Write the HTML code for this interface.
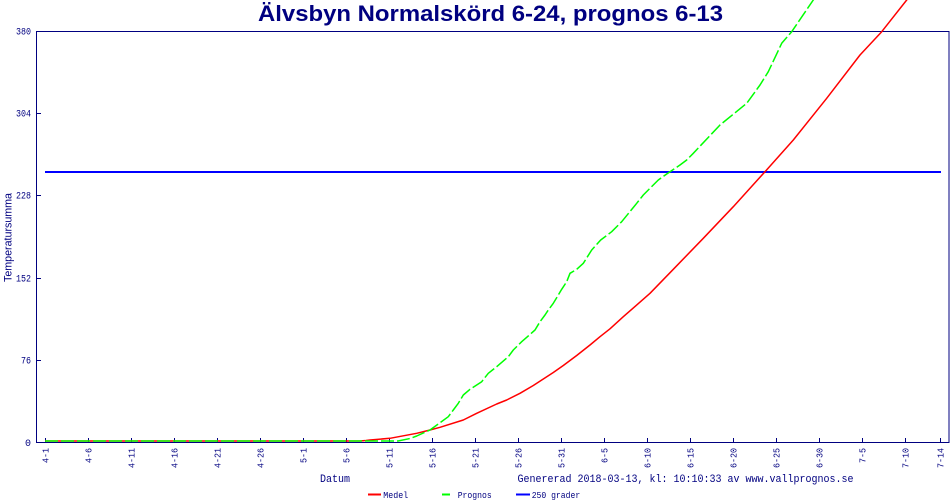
<!DOCTYPE html>
<html><head><meta charset="utf-8"><style>
html,body{margin:0;padding:0;background:#fff;}
svg{display:block;}
.m{font-family:"Liberation Mono",monospace;fill:#000080;}
</style></head><body>
<svg width="950" height="500" viewBox="0 0 950 500" xmlns="http://www.w3.org/2000/svg">
<rect x="0" y="0" width="950" height="500" fill="#fff"/>
<!-- title -->
<text x="258" y="21" font-family="'Liberation Sans',sans-serif" font-weight="bold" font-size="22" fill="#000080" textLength="465" lengthAdjust="spacingAndGlyphs">Älvsbyn Normalskörd 6-24, prognos 6-13</text>
<!-- frame -->
<rect x="36.5" y="31.5" width="912.5" height="411" fill="none" stroke="#000080" stroke-width="1"/>
<!-- y ticks -->
<g stroke="#000080" stroke-width="1">
<line x1="36" y1="442.5" x2="41" y2="442.5"/>
<line x1="36" y1="360.5" x2="41" y2="360.5"/>
<line x1="36" y1="278.5" x2="41" y2="278.5"/>
<line x1="36" y1="195.5" x2="41" y2="195.5"/>
<line x1="36" y1="113.5" x2="41" y2="113.5"/>
<line x1="36" y1="31.5" x2="41" y2="31.5"/>
</g>
<g class="m" font-size="10" text-anchor="end">
<text x="31" y="446">0</text>
<text x="31" y="363.5" textLength="10" lengthAdjust="spacingAndGlyphs">76</text>
<text x="31" y="281.5" textLength="15" lengthAdjust="spacingAndGlyphs">152</text>
<text x="31" y="198.5" textLength="15" lengthAdjust="spacingAndGlyphs">228</text>
<text x="31" y="116.5" textLength="15" lengthAdjust="spacingAndGlyphs">304</text>
<text x="31" y="34.5" textLength="15" lengthAdjust="spacingAndGlyphs">380</text>
</g>
<!-- y label -->
<text transform="translate(11.3,237.5) rotate(-90)" text-anchor="middle" font-family="'Liberation Sans',sans-serif" font-size="11" fill="#000080" textLength="89" lengthAdjust="spacingAndGlyphs">Temperatursumma</text>
<!-- x ticks -->
<g stroke="#000080" stroke-width="1">
<line x1="45.5" y1="438" x2="45.5" y2="442"/>
<line x1="88.5" y1="438" x2="88.5" y2="442"/>
<line x1="131.5" y1="438" x2="131.5" y2="442"/>
<line x1="174.5" y1="438" x2="174.5" y2="442"/>
<line x1="217.5" y1="438" x2="217.5" y2="442"/>
<line x1="260.5" y1="438" x2="260.5" y2="442"/>
<line x1="303.5" y1="438" x2="303.5" y2="442"/>
<line x1="346.5" y1="438" x2="346.5" y2="442"/>
<line x1="389.5" y1="438" x2="389.5" y2="442"/>
<line x1="432.5" y1="438" x2="432.5" y2="442"/>
<line x1="475.5" y1="438" x2="475.5" y2="442"/>
<line x1="518.5" y1="438" x2="518.5" y2="442"/>
<line x1="561.5" y1="438" x2="561.5" y2="442"/>
<line x1="604.5" y1="438" x2="604.5" y2="442"/>
<line x1="647.5" y1="438" x2="647.5" y2="442"/>
<line x1="690.5" y1="438" x2="690.5" y2="442"/>
<line x1="733.5" y1="438" x2="733.5" y2="442"/>
<line x1="776.5" y1="438" x2="776.5" y2="442"/>
<line x1="819.5" y1="438" x2="819.5" y2="442"/>
<line x1="862.5" y1="438" x2="862.5" y2="442"/>
<line x1="905.5" y1="438" x2="905.5" y2="442"/>
<line x1="940.5" y1="438" x2="940.5" y2="442"/>
</g>
<g class="m" font-size="9.5" text-anchor="end">
<text transform="translate(48.5,448) rotate(-90)" textLength="15" lengthAdjust="spacingAndGlyphs">4-1</text>
<text transform="translate(91.5,448) rotate(-90)" textLength="15" lengthAdjust="spacingAndGlyphs">4-6</text>
<text transform="translate(134.5,448) rotate(-90)" textLength="20" lengthAdjust="spacingAndGlyphs">4-11</text>
<text transform="translate(177.5,448) rotate(-90)" textLength="20" lengthAdjust="spacingAndGlyphs">4-16</text>
<text transform="translate(220.5,448) rotate(-90)" textLength="20" lengthAdjust="spacingAndGlyphs">4-21</text>
<text transform="translate(263.5,448) rotate(-90)" textLength="20" lengthAdjust="spacingAndGlyphs">4-26</text>
<text transform="translate(306.5,448) rotate(-90)" textLength="15" lengthAdjust="spacingAndGlyphs">5-1</text>
<text transform="translate(349.5,448) rotate(-90)" textLength="15" lengthAdjust="spacingAndGlyphs">5-6</text>
<text transform="translate(392.5,448) rotate(-90)" textLength="20" lengthAdjust="spacingAndGlyphs">5-11</text>
<text transform="translate(435.5,448) rotate(-90)" textLength="20" lengthAdjust="spacingAndGlyphs">5-16</text>
<text transform="translate(478.5,448) rotate(-90)" textLength="20" lengthAdjust="spacingAndGlyphs">5-21</text>
<text transform="translate(521.5,448) rotate(-90)" textLength="20" lengthAdjust="spacingAndGlyphs">5-26</text>
<text transform="translate(564.5,448) rotate(-90)" textLength="20" lengthAdjust="spacingAndGlyphs">5-31</text>
<text transform="translate(607.5,448) rotate(-90)" textLength="15" lengthAdjust="spacingAndGlyphs">6-5</text>
<text transform="translate(650.5,448) rotate(-90)" textLength="20" lengthAdjust="spacingAndGlyphs">6-10</text>
<text transform="translate(693.5,448) rotate(-90)" textLength="20" lengthAdjust="spacingAndGlyphs">6-15</text>
<text transform="translate(736.5,448) rotate(-90)" textLength="20" lengthAdjust="spacingAndGlyphs">6-20</text>
<text transform="translate(779.5,448) rotate(-90)" textLength="20" lengthAdjust="spacingAndGlyphs">6-25</text>
<text transform="translate(822.5,448) rotate(-90)" textLength="20" lengthAdjust="spacingAndGlyphs">6-30</text>
<text transform="translate(865.5,448) rotate(-90)" textLength="15" lengthAdjust="spacingAndGlyphs">7-5</text>
<text transform="translate(908.5,448) rotate(-90)" textLength="20" lengthAdjust="spacingAndGlyphs">7-10</text>
<text transform="translate(943.5,448) rotate(-90)" textLength="20" lengthAdjust="spacingAndGlyphs">7-14</text>
</g>
<!-- 250 line -->
<line x1="45" y1="172" x2="941" y2="172" stroke="#0000ff" stroke-width="2"/>
<!-- red Medel -->
<polyline fill="none" stroke="#ff0000" stroke-width="1.5" stroke-linejoin="round" points="45,441 360,441 366,440.5 370,440 390,438.3 416.7,433.3 430,430 440,427.3 463.3,420 476.7,413.3 496.7,404 506.7,400 520,393.3 533.3,385.5 543.3,379 553.3,372.5 563.3,365.5 576.7,355.5 590,345 600,336.7 610,328.8 623.3,316.7 650,293.3 673.3,269.3 703.3,238.3 733.3,206.7 765,171.7 793.3,140 826.7,98.3 860,55 881.7,31.7 906.7,0 909,-3"/>
<!-- green Prognos -->
<polyline fill="none" stroke="#00ff00" stroke-width="1.5" stroke-dasharray="13 3" stroke-linejoin="round" points="45,441 398,441 410,438.5 416.7,436 430,430 448.3,416.7 453.3,410 458.3,403.3 463.3,395 470,389.3 481.7,381.7 488.3,373.3 496.7,366.7 508.3,356.7 513.3,350 521.7,341.7 535,330 540,321.7 545,315 548.3,310 553.3,303.3 561.7,289.3 566.7,281.7 570,273.3 576.7,269.3 583.3,263.3 591.7,250 600.7,240 611.7,231.7 621.7,221.7 636.7,203.3 643.3,195 658.3,180 666.7,174 680,165 686.7,160 693.3,153.3 720,125 746.7,103.3 760,85 768.3,71.7 781.7,43.3 791.7,31.7 813.3,0 815,-3"/>
<!-- bottom texts -->
<text class="m" x="320" y="482" font-size="11" textLength="30" lengthAdjust="spacingAndGlyphs">Datum</text>
<text class="m" x="517.5" y="482" font-size="11" textLength="336" lengthAdjust="spacingAndGlyphs">Genererad 2018-03-13, kl: 10:10:33 av www.vallprognos.se</text>
<!-- legend -->
<line x1="368" y1="494.5" x2="381" y2="494.5" stroke="#ff0000" stroke-width="2"/>
<text class="m" x="383.3" y="498" font-size="9" textLength="25" lengthAdjust="spacingAndGlyphs">Medel</text>
<line x1="442" y1="494.5" x2="450" y2="494.5" stroke="#00ff00" stroke-width="2"/>
<text class="m" x="457.7" y="498" font-size="9" textLength="34" lengthAdjust="spacingAndGlyphs">Prognos</text>
<line x1="516" y1="494.5" x2="530" y2="494.5" stroke="#0000ff" stroke-width="2"/>
<text class="m" x="531.7" y="498" font-size="9" textLength="48.5" lengthAdjust="spacingAndGlyphs">250 grader</text>
</svg>
</body></html>
